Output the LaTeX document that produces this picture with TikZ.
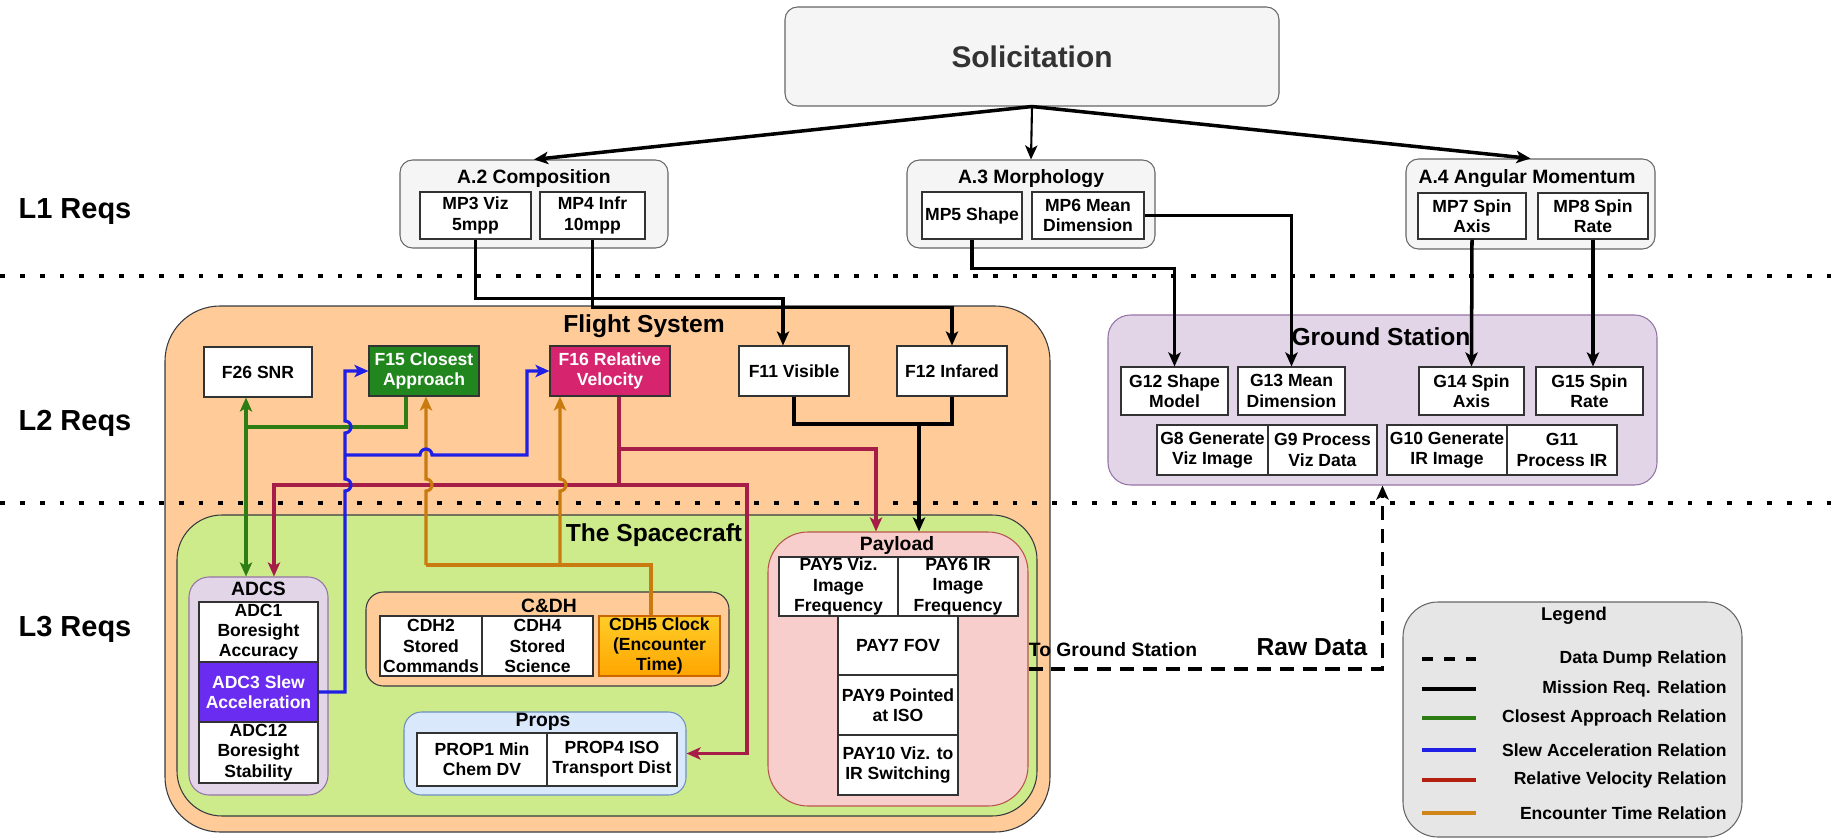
\documentclass[tikz,border=0pt]{standalone}
\usepackage{fontspec}
\setmainfont{Liberation Sans}
\usetikzlibrary{arrows.meta,calc}

\definecolor{fsorange}{HTML}{FFCC99}
\definecolor{scgreen}{HTML}{CDEB8B}
\definecolor{gspurple}{HTML}{E1D5E7}
\definecolor{gsedge}{HTML}{9673A6}
\definecolor{paypink}{HTML}{F8CECC}
\definecolor{payedge}{HTML}{B85450}
\definecolor{propblue}{HTML}{DAE8FC}
\definecolor{propedge}{HTML}{6C8EBF}
\definecolor{lonegray}{HTML}{F5F5F5}
\definecolor{legendgray}{HTML}{E6E6E6}
\definecolor{darkedge}{HTML}{36393D}
\definecolor{f15green}{HTML}{22861E}
\definecolor{f16pink}{HTML}{D6246E}
\definecolor{adcviolet}{HTML}{6A2CF0}
\definecolor{clocktop}{HTML}{FFCD28}
\definecolor{clockbot}{HTML}{FFA500}
\definecolor{linkgreen}{HTML}{2D7D14}
\definecolor{linkblue}{HTML}{1F1FE6}
\definecolor{linkred}{HTML}{A61E48}
\definecolor{linkorange}{HTML}{C97B10}
\definecolor{keyred}{HTML}{B3200F}
\definecolor{keyorange}{HTML}{D08518}

\tikzset{
  sz/.style 2 args={minimum width={#1*0.02cm}, minimum height={#2*0.02cm}},
  box/.style={draw=black!80, fill=white, line width=0.6pt, inner sep=0pt, align=center,
    font=\bfseries\fontsize{10}{11.5}\selectfont},
  grp/.style={line width=0.6pt, inner sep=0pt},
  ttl/.style={inner sep=0pt, font=\bfseries\fontsize{11}{13}\selectfont},
  bigttl/.style={inner sep=0pt, font=\bfseries\fontsize{14}{16}\selectfont},
  lvl/.style={inner sep=0pt, font=\bfseries\fontsize{16.5}{18}\selectfont},
  legtxt/.style={inner sep=0pt, anchor=east, font=\bfseries\fontsize{10}{12}\selectfont},
  >={Stealth[length=8pt,width=7pt,inset=2pt]},
  mission/.style={line width=2pt, draw=black},
  closest/.style={line width=1.8pt, draw=linkgreen},
  slew/.style={line width=1.8pt, draw=linkblue},
  relvel/.style={line width=1.8pt, draw=linkred},
  encounter/.style={line width=1.8pt, draw=linkorange},
  dump/.style={line width=2pt, dash pattern=on 8pt off 5pt},
  sep/.style={line width=2.8pt, dash pattern=on 2.8pt off 8.5pt},
}

\begin{document}
\begin{tikzpicture}[x=0.02cm,y=-0.02cm]
		\useasboundingbox (0,0) rectangle (1843,838);
		
		%%%%% CONTAINERS %%%%%
		\node[grp, draw=darkedge, fill=fsorange, rounded corners=1.1cm, sz={885}{526}] (fs) at (607.5,569) {};
		\node[grp, draw=darkedge, fill=scgreen, rounded corners=0.9cm, sz={860}{301}] (sc) at (607,665.5) {};
		\node[grp, draw=gsedge, fill=gspurple, rounded corners=0.45cm, sz={549}{170}] (gs) at (1382.5,400) {};
		\node[grp, draw=gsedge, fill=gspurple, rounded corners=0.4cm, sz={139}{218}] (adcs) at (258.5,686) {};
		\node[grp, draw=darkedge, fill=fsorange, rounded corners=0.35cm, sz={363}{94}] (cdh) at (547.5,639) {};
		\node[grp, draw=propedge, fill=propblue, rounded corners=0.35cm, sz={282}{83}] (props) at (545,753.5) {};
		\node[grp, draw=payedge, fill=paypink, rounded corners=0.8cm, sz={260}{274}] (pay) at (898,669) {};
		\node[grp, draw=black!60, fill=lonegray, rounded corners=0.25cm, sz={268}{88}] (a2) at (534,204) {};
		\node[grp, draw=black!60, fill=lonegray, rounded corners=0.25cm, sz={248}{88}] (a3) at (1031,204) {};
		\node[grp, draw=black!60, fill=lonegray, rounded corners=0.25cm, sz={249}{90}] (a4) at (1530.5,204) {};
		\node[grp, draw=black!60, fill=lonegray, rounded corners=0.25cm, sz={494}{99},
		  text=black!80, font=\bfseries\fontsize{17}{19}\selectfont] (sol) at (1032,56.5) {Solicitation};
		\node[grp, draw=black!60, fill=legendgray, rounded corners=0.7cm, sz={339}{235}] (leg) at (1572.5,719.5) {};
		
		%%%%% SEPARATORS %%%%%
		\draw[sep] (0,276) -- (1843,276);
		\draw[sep] (0,503) -- (1843,503);
		
		\node[lvl] (l1) at (75,212) {L1 Reqs};
		\node[lvl] (l2) at (75,423) {L2 Reqs};
		\node[lvl] (l3) at (75,629) {L3 Reqs};
		
		%%%%% TITLES %%%%%
		\node[bigttl] (fstitle) at (644,326) {Flight System};
		\node[bigttl] (sctitle) at (654,535) {The Spacecraft};
		\node[bigttl] (gstitle) at (1381,337) {Ground Station};
		\node[ttl] (adcstitle) at (258.5,589) {ADCS};
		\node[ttl] (cdhtitle) at (549,606) {C\&DH};
		\node[ttl] (proptitle) at (543,722) {Props};
		\node[ttl] (paytitle) at (897,545) {Payload};
		\node[ttl] (a2title) at (534,179) {A.2 Composition};
		\node[ttl] (a3title) at (1031,179) {A.3 Morphology};
		\node[ttl] (a4title) at (1527,179) {A.4 Angular Momentum};
		
		%%%%% L1 %%%%%
		\node[box, sz={111}{47}] (mp3) at (475.5,215.5) {MP3 Viz\\5mpp};
		\node[box, sz={105}{47}] (mp4) at (592.5,215.5) {MP4 Infr\\10mpp};
		\node[box, sz={100}{47}] (mp5) at (972,215.5) {MP5 Shape};
		\node[box, sz={112}{47}] (mp6) at (1088,215.5) {MP6 Mean\\Dimension};
		\node[box, sz={108}{46}] (mp7) at (1472,216) {MP7 Spin\\Axis};
		\node[box, sz={110}{46}] (mp8) at (1593,216) {MP8 Spin\\Rate};
		
		%%%%% L2 %%%%%
		\node[box, sz={108}{50}] (f26) at (258,372) {F26 SNR};
		\node[box, fill=f15green, text=white, sz={110}{50}] (f15) at (424,371) {F15 Closest\\Approach};
		\node[box, fill=f16pink, text=white, sz={120}{50}] (f16) at (610,371) {F16 Relative\\Velocity};
		\node[box, sz={110}{50}] (f11) at (794,371) {F11 Visible};
		\node[box, sz={110}{50}] (f12) at (952,371) {F12 Infared};
		
		\node[box, sz={107}{48}] (g12) at (1174.5,391) {G12 Shape\\Model};
		\node[box, sz={107}{48}] (g13) at (1291.5,391) {G13 Mean\\Dimension};
		\node[box, sz={105}{48}] (g14) at (1471.5,391) {G14 Spin\\Axis};
		\node[box, sz={107}{48}] (g15) at (1589.5,391) {G15 Spin\\Rate};
		\node[box, sz={111}{50}] (g8) at (1212.5,450) {G8 Generate\\Viz Image};
		\node[box, sz={109}{50}] (g9) at (1322.5,450) {G9 Process\\Viz Data};
		\node[box, sz={120}{50}] (g10) at (1447,450) {G10 Generate\\IR Image};
		\node[box, sz={110}{50}] (g11) at (1562,450) {G11\\Process IR};
		
		%%%%% L3 %%%%%
		\node[box, sz={119}{60}] (adc1) at (258.5,632) {ADC1\\Boresight\\Accuracy};
		\node[box, fill=adcviolet, text=white, sz={119}{60}] (adc3) at (258.5,692) {ADC3 Slew\\Acceleration};
		\node[box, sz={119}{61}] (adc12) at (258.5,752.5) {ADC12\\Boresight\\Stability};
		
		\node[box, sz={102}{60}] (cdh2) at (431,646) {CDH2\\Stored\\Commands};
		\node[box, sz={111}{60}] (cdh4) at (537.5,646) {CDH4\\Stored\\Science};
		\node[box, draw=orange!80!black, top color=clocktop, bottom color=clockbot, sz={121}{60}] (cdh5) at (659.5,646) {CDH5 Clock\\(Encounter\\Time)};
		
		\node[box, sz={130}{53}] (prop1) at (482,759.5) {PROP1 Min\\Chem DV};
		\node[box, sz={130}{53}] (prop4) at (612,759.5) {PROP4 ISO\\Transport Dist};
		
		\node[box, sz={119}{59}] (pay5) at (838.5,586.5) {PAY5 Viz.\\Image\\Frequency};
		\node[box, sz={120}{59}] (pay6) at (958,586.5) {PAY6 IR\\Image\\Frequency};
		\node[box, sz={120}{59}] (pay7) at (898,645.5) {PAY7 FOV};
		\node[box, sz={120}{60}] (pay9) at (898,705) {PAY9 Pointed\\at ISO};
		\node[box, sz={120}{60}] (pay10) at (898,765) {PAY10 Viz. to\\IR Switching};
		
		%%%%% MISSION LINKS %%%%%
		\draw[mission,->] (sol.south) -- (a2.north);
		\draw[mission,->, line width=1.2pt] (sol.south) -- (a3.north);
		\draw[mission,->] (sol.south) -- (a4.north);
		
		\draw[mission,->] (mp3.south) -- ++(0,59) -| ($(f11.north)+(-11,0)$);
		\draw[mission,->] (mp4.south) -- ++(0,68) -| (f12.north);
		\draw[mission,->] (mp5.south) -- ++(0,29) -| (g12.north);
		\draw[mission,->] (mp6.east) -| (g13.north);
		\draw[mission,->] (mp7.south) -- (g14.north);
		\draw[mission,->] (mp8.south) -- (mp8.south |- g15.north);
		
		\coordinate (fjoin) at (919,424);
		\draw[mission] (f11.south) |- (fjoin) -| (f12.south);
		\draw[mission,->] (fjoin) -- (fjoin |- pay.north);
		
		%%%%% RELATIVE VELOCITY %%%%%
		\coordinate (rjoin) at (619,485);
		\coordinate (rsplit) at (619,449);
		\draw[relvel] ($(f16.south)+(9,0)$) -- (rjoin);
		\draw[relvel,->] (rjoin) -| ($(adcs.north)+(15.5,0)$);
		\draw[relvel,->] (rjoin) -| (747,753.5) -- (props.east);
		\draw[relvel,->] (rsplit) -| ($(pay.north)+(-22,0)$);
		
		%%%%% CLOSEST APPROACH %%%%%
		\coordinate (gjoin) at (246,427);
		\draw[closest,<->] ($(f26.south)+(-12,0)$) -- ($(adcs.north)+(-12.5,0)$);
		\draw[closest] ($(f15.south)+(-18,0)$) |- (gjoin);
		
		%%%%% ENCOUNTER TIME %%%%%
		\coordinate (ojoin) at (560,565);
		\draw[encounter] ($(cdh5.north)+(-8.5,0)$) |- (426,565);
		\draw[encounter,->] (426,565) -- (426,491) arc[start angle=90,end angle=-90,radius=6] -- ($(f15.south)+(2,0)$);
		\draw[encounter,->] (ojoin) -- (560,491) arc[start angle=90,end angle=-90,radius=6] -- ($(f16.south)+(-50,0)$);
		
		%%%%% SLEW ACCELERATION %%%%%
		\coordinate (bjoin) at (345,455);
		\draw[slew,->] (adc3.east) -| (345,491) arc[start angle=90,end angle=-90,radius=6] -- (345,433) arc[start angle=90,end angle=-90,radius=6] -- (345,371) -- (f15.west);
		\draw[slew,->] (bjoin) -- (420,455) arc[start angle=180,end angle=360,radius=6] -- (527,455) |- (f16.west);
		
		%%%%% DATA DUMP %%%%%
		\draw[dump,->] (pay.east) -| (gs.south);
		\node[inner sep=0pt, font=\bfseries\fontsize{11}{13}\selectfont] (togs) at (1113,650) {To Ground Station};
		\node[inner sep=0pt, font=\bfseries\fontsize{14}{16}\selectfont] (raw) at (1312,647) {Raw Data};
		
		%%%%% LEGEND %%%%%
		\node[ttl, font=\bfseries\fontsize{10.5}{12}\selectfont] (legtitle) at (1574,616) {Legend};
		\draw[dump, dash pattern=on 6.5pt off 6pt] (1422,659) -- (1476,659);
		\node[legtxt] (kdump) at (1727,659) {Data Dump Relation};
		\draw[line width=2.8pt] (1422,689) -- (1476,689);
		\node[legtxt] (kmission) at (1727,689) {Mission Req. Relation};
		\draw[line width=2.8pt, linkgreen] (1422,718) -- (1476,718);
		\node[legtxt] (kclosest) at (1727,718) {Closest Approach Relation};
		\draw[line width=2.8pt, linkblue] (1422,750) -- (1476,750);
		\node[legtxt] (kslew) at (1727,750) {Slew Acceleration Relation};
		\draw[line width=2.8pt, keyred] (1422,780) -- (1476,780);
		\node[legtxt] (krelvel) at (1727,780) {Relative Velocity Relation};
		\draw[line width=2.8pt, keyorange] (1422,813) -- (1476,813);
		\node[legtxt] (kencounter) at (1727,813) {Encounter Time Relation};
		
	\end{tikzpicture}
\end{document}
